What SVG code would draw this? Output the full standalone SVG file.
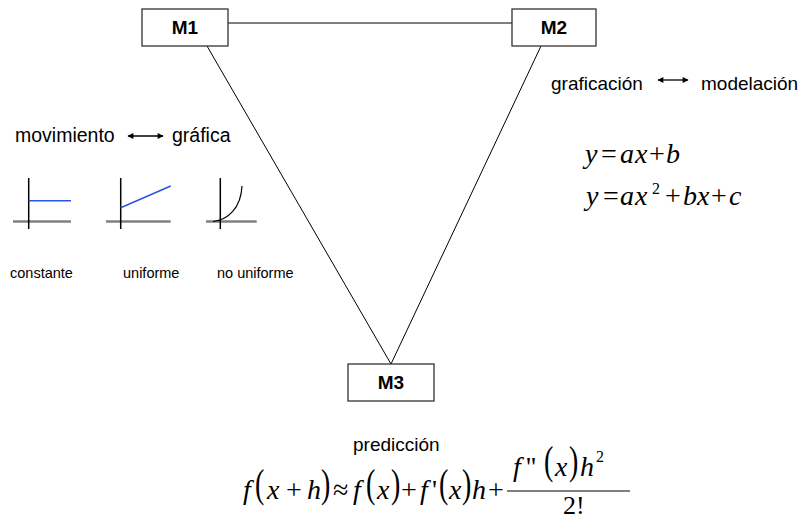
<svg xmlns="http://www.w3.org/2000/svg" width="804" height="521" viewBox="0 0 804 521">
<style>
.box{fill:#fff;stroke:#333;stroke-width:1.3}
.lbl{font-family:"Liberation Sans",Arial,sans-serif;font-weight:bold;font-size:19px;fill:#000;text-anchor:middle}
.t{font-family:"Liberation Sans",Arial,sans-serif;font-size:19.5px;fill:#000}
.s{font-family:"Liberation Sans",Arial,sans-serif;font-size:14.5px;fill:#000}
.m{font-family:"Liberation Serif","Times New Roman",serif;font-style:italic;fill:#000}
.u{font-family:"Liberation Serif","Times New Roman",serif;font-style:normal;fill:#000}
.conn{stroke:#000;stroke-width:1;fill:none}
.ax{stroke:#808080;stroke-width:2.5}
.ay{stroke:#000;stroke-width:1.5}
.blue{stroke:#2a55e0;stroke-width:1.5;fill:none}
.arr{stroke:#000;stroke-width:1.3;marker-start:url(#ah);marker-end:url(#ah)}
</style>
<defs>
<marker id="ah" viewBox="0 0 10 10" refX="9" refY="5" markerWidth="8" markerHeight="6" markerUnits="userSpaceOnUse" orient="auto-start-reverse">
<path d="M0,0 L10,5 L0,10 z" fill="#000"/>
</marker>
</defs>
<g id="connectors">
<line class="conn" x1="228" y1="23" x2="512" y2="23"/>
<line class="conn" x1="207" y1="46" x2="391" y2="364"/>
<line class="conn" x1="541" y1="46" x2="391" y2="364"/>
</g>
<g id="M1"><rect class="box" x="142" y="9" width="86" height="37"/><text class="lbl" x="185" y="34">M1</text></g>
<g id="M2"><rect class="box" x="512" y="9" width="84" height="37"/><text class="lbl" x="554" y="34">M2</text></g>
<g id="M3"><rect class="box" x="348" y="364" width="86" height="37"/><text class="lbl" x="391" y="389">M3</text></g>
<g id="movimiento">
<text class="t" x="15" y="142">movimiento</text>
<line class="arr" x1="128" y1="136" x2="163" y2="136"/>
<text class="t" x="172" y="142">gráfica</text>
</g>
<g id="graphs">
<line class="ax" x1="13" y1="221.5" x2="71" y2="221.5"/>
<line class="ay" x1="28.7" y1="178" x2="28.7" y2="229"/>
<line class="blue" x1="28.7" y1="200.7" x2="71" y2="200.7"/>
<line class="ax" x1="106" y1="221.5" x2="170.7" y2="221.5"/>
<line class="ay" x1="120.7" y1="178" x2="120.7" y2="229"/>
<line class="blue" x1="120.7" y1="207.7" x2="170.7" y2="186"/>
<line class="ax" x1="206" y1="221.5" x2="256.7" y2="221.5"/>
<line class="ay" x1="220.3" y1="178" x2="220.3" y2="229"/>
<path d="M213,221.5 C228,220 241,208 242,186" fill="none" stroke="#000" stroke-width="1.2"/>
<text class="s" x="10" y="278">constante</text>
<text class="s" x="123" y="278">uniforme</text>
<text class="s" x="217" y="278">no uniforme</text>
</g>
<g id="grafmod">
<text class="t" x="551" y="90" style="font-size:19px">graficación</text>
<line class="arr" x1="658" y1="80" x2="688" y2="80"/>
<text class="t" x="701" y="90" style="font-size:19px">modelación</text>
</g>
<g id="equations" font-size="28">
<text y="163"><tspan class="m" x="585">y</tspan><tspan class="u" x="601">=</tspan><tspan class="m" x="620">a</tspan><tspan class="m" x="635">x</tspan><tspan class="u" x="649">+</tspan><tspan class="m" x="666">b</tspan></text>
<text y="205"><tspan class="m" x="586">y</tspan><tspan class="u" x="603">=</tspan><tspan class="m" x="620">a</tspan><tspan class="m" x="635">x</tspan><tspan class="u" x="652" y="194" font-size="16">2</tspan><tspan class="u" x="665" y="205">+</tspan><tspan class="m" x="683">b</tspan><tspan class="m" x="697">x</tspan><tspan class="u" x="711">+</tspan><tspan class="m" x="729">c</tspan></text>
</g>
<g id="prediccion">
<text class="t" x="353" y="451" style="font-size:19px">predicción</text>
<g font-size="28">
<text y="499"><tspan class="m" x="243">f</tspan><tspan class="m" x="267">x</tspan><tspan class="u" x="286">+</tspan><tspan class="m" x="307">h</tspan><tspan class="u" x="333">≈</tspan><tspan class="m" x="353">f</tspan><tspan class="m" x="377">x</tspan><tspan class="u" x="401">+</tspan><tspan class="m" x="420">f</tspan><tspan class="u" x="432">'</tspan><tspan class="m" x="449">x</tspan><tspan class="m" x="472">h</tspan><tspan class="u" x="488">+</tspan></text>
<text class="u" transform="translate(255,497) scale(1,1.4)">(</text>
<text class="u" transform="translate(321,497) scale(1,1.4)">)</text>
<text class="u" transform="translate(366,497) scale(1,1.4)">(</text>
<text class="u" transform="translate(391,497) scale(1,1.4)">)</text>
<text class="u" transform="translate(439,497) scale(1,1.4)">(</text>
<text class="u" transform="translate(462,497) scale(1,1.4)">)</text>
<text y="476"><tspan class="m" x="513">f</tspan><tspan class="u" x="526">''</tspan><tspan class="m" x="555">x</tspan><tspan class="m" x="580">h</tspan><tspan class="u" x="596" y="462" font-size="16">2</tspan></text>
<text class="u" transform="translate(544,474) scale(1,1.4)">(</text>
<text class="u" transform="translate(569,474) scale(1,1.4)">)</text>
<line x1="507" y1="491" x2="630" y2="491" stroke="#000" stroke-width="1.2"/>
<text class="u" x="563" y="514" font-size="26">2!</text>
</g>
</g>
</svg>
